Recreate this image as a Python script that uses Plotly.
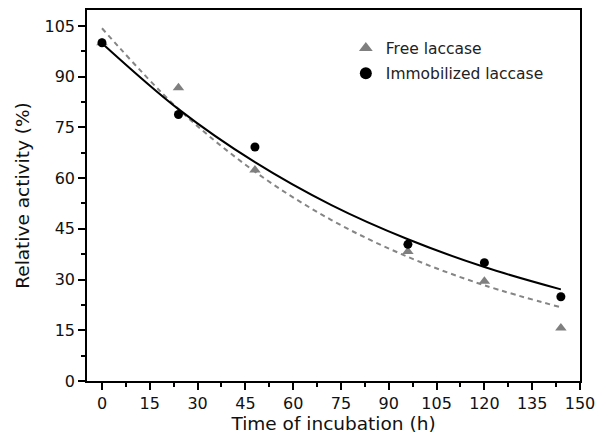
import plotly.graph_objects as go

# Data
time_h = [0, 24, 48, 96, 120, 144]
free_laccase = [100, 86.7, 62.4, 38.3, 29.5, 15.7]
immob_laccase = [100, 78.8, 69.2, 40.4, 35.0, 24.9]

# Fitted curves
fit_x = [0, 24, 48, 72, 96, 120, 144]
fit_free = [104.3, 80.4, 61.9, 47.6, 36.7, 28.3, 21.8]
fit_immob = [99.9, 80.4, 64.7, 52.0, 41.9, 33.7, 27.1]

x_ticks = [0, 15, 30, 45, 60, 75, 90, 105, 120, 135, 150]
y_ticks = [0, 15, 30, 45, 60, 75, 90, 105]

font_family = "DejaVu Sans, sans-serif"

fig = go.Figure()
fig.add_trace(go.Scatter(x=fit_x, y=fit_free, mode="lines", line=dict(color="#858585", width=2, dash="5px,4px", shape="spline"),
                         showlegend=False, hoverinfo="skip"))
fig.add_trace(go.Scatter(x=fit_x, y=fit_immob, mode="lines", line=dict(color="black", width=2, shape="spline"),
                         showlegend=False, hoverinfo="skip"))
fig.add_trace(go.Scatter(x=time_h, y=free_laccase, mode="markers", name="Free laccase", legendgroup="a",
                         marker=dict(symbol="triangle-up", size=10, color="#7f7f7f")))
fig.add_trace(go.Scatter(x=time_h, y=immob_laccase, mode="markers", name="Immobilized laccase", legendgroup="b",
                         marker=dict(symbol="circle", size=9, color="black")))

axis_common = dict(showgrid=False, zeroline=False, showline=True, linecolor="black", linewidth=1.5,
                   mirror=True, ticks="outside", ticklen=7, tickwidth=1.5, tickcolor="black", automargin=False,
                   tickfont=dict(family=font_family, size=16, color="#111"))

fig.update_xaxes(range=[-4.7, 150], tickvals=x_ticks,
                 minor=dict(ticks="outside", ticklen=4, tickwidth=1.5, tickcolor="black", dtick=7.5, tick0=0),
                 title=dict(text="Time of incubation (h)", font=dict(family=font_family, size=18.5, color="#111"), standoff=3),
                 **axis_common)
fig.update_yaxes(range=[0, 109.7], tickvals=y_ticks,
                 minor=dict(ticks="outside", ticklen=4, tickwidth=1.5, tickcolor="black", dtick=7.5, tick0=0),
                 title=dict(text="Relative activity (%)", font=dict(family=font_family, size=18.5, color="#111"), standoff=10),
                 **axis_common)

fig.update_layout(
    width=596, height=437,
    margin=dict(l=87, r=16, t=10, b=56, autoexpand=False),
    plot_bgcolor="white", paper_bgcolor="white",
    font=dict(family=font_family, color="#111"),
    legend=dict(x=0.525, y=0.942, xanchor="left", yanchor="top", bgcolor="rgba(0,0,0,0)",
                font=dict(family=font_family, size=15.5, color="#222"), tracegroupgap=2, itemsizing="constant"),
)

fig.write_html("out.html")
